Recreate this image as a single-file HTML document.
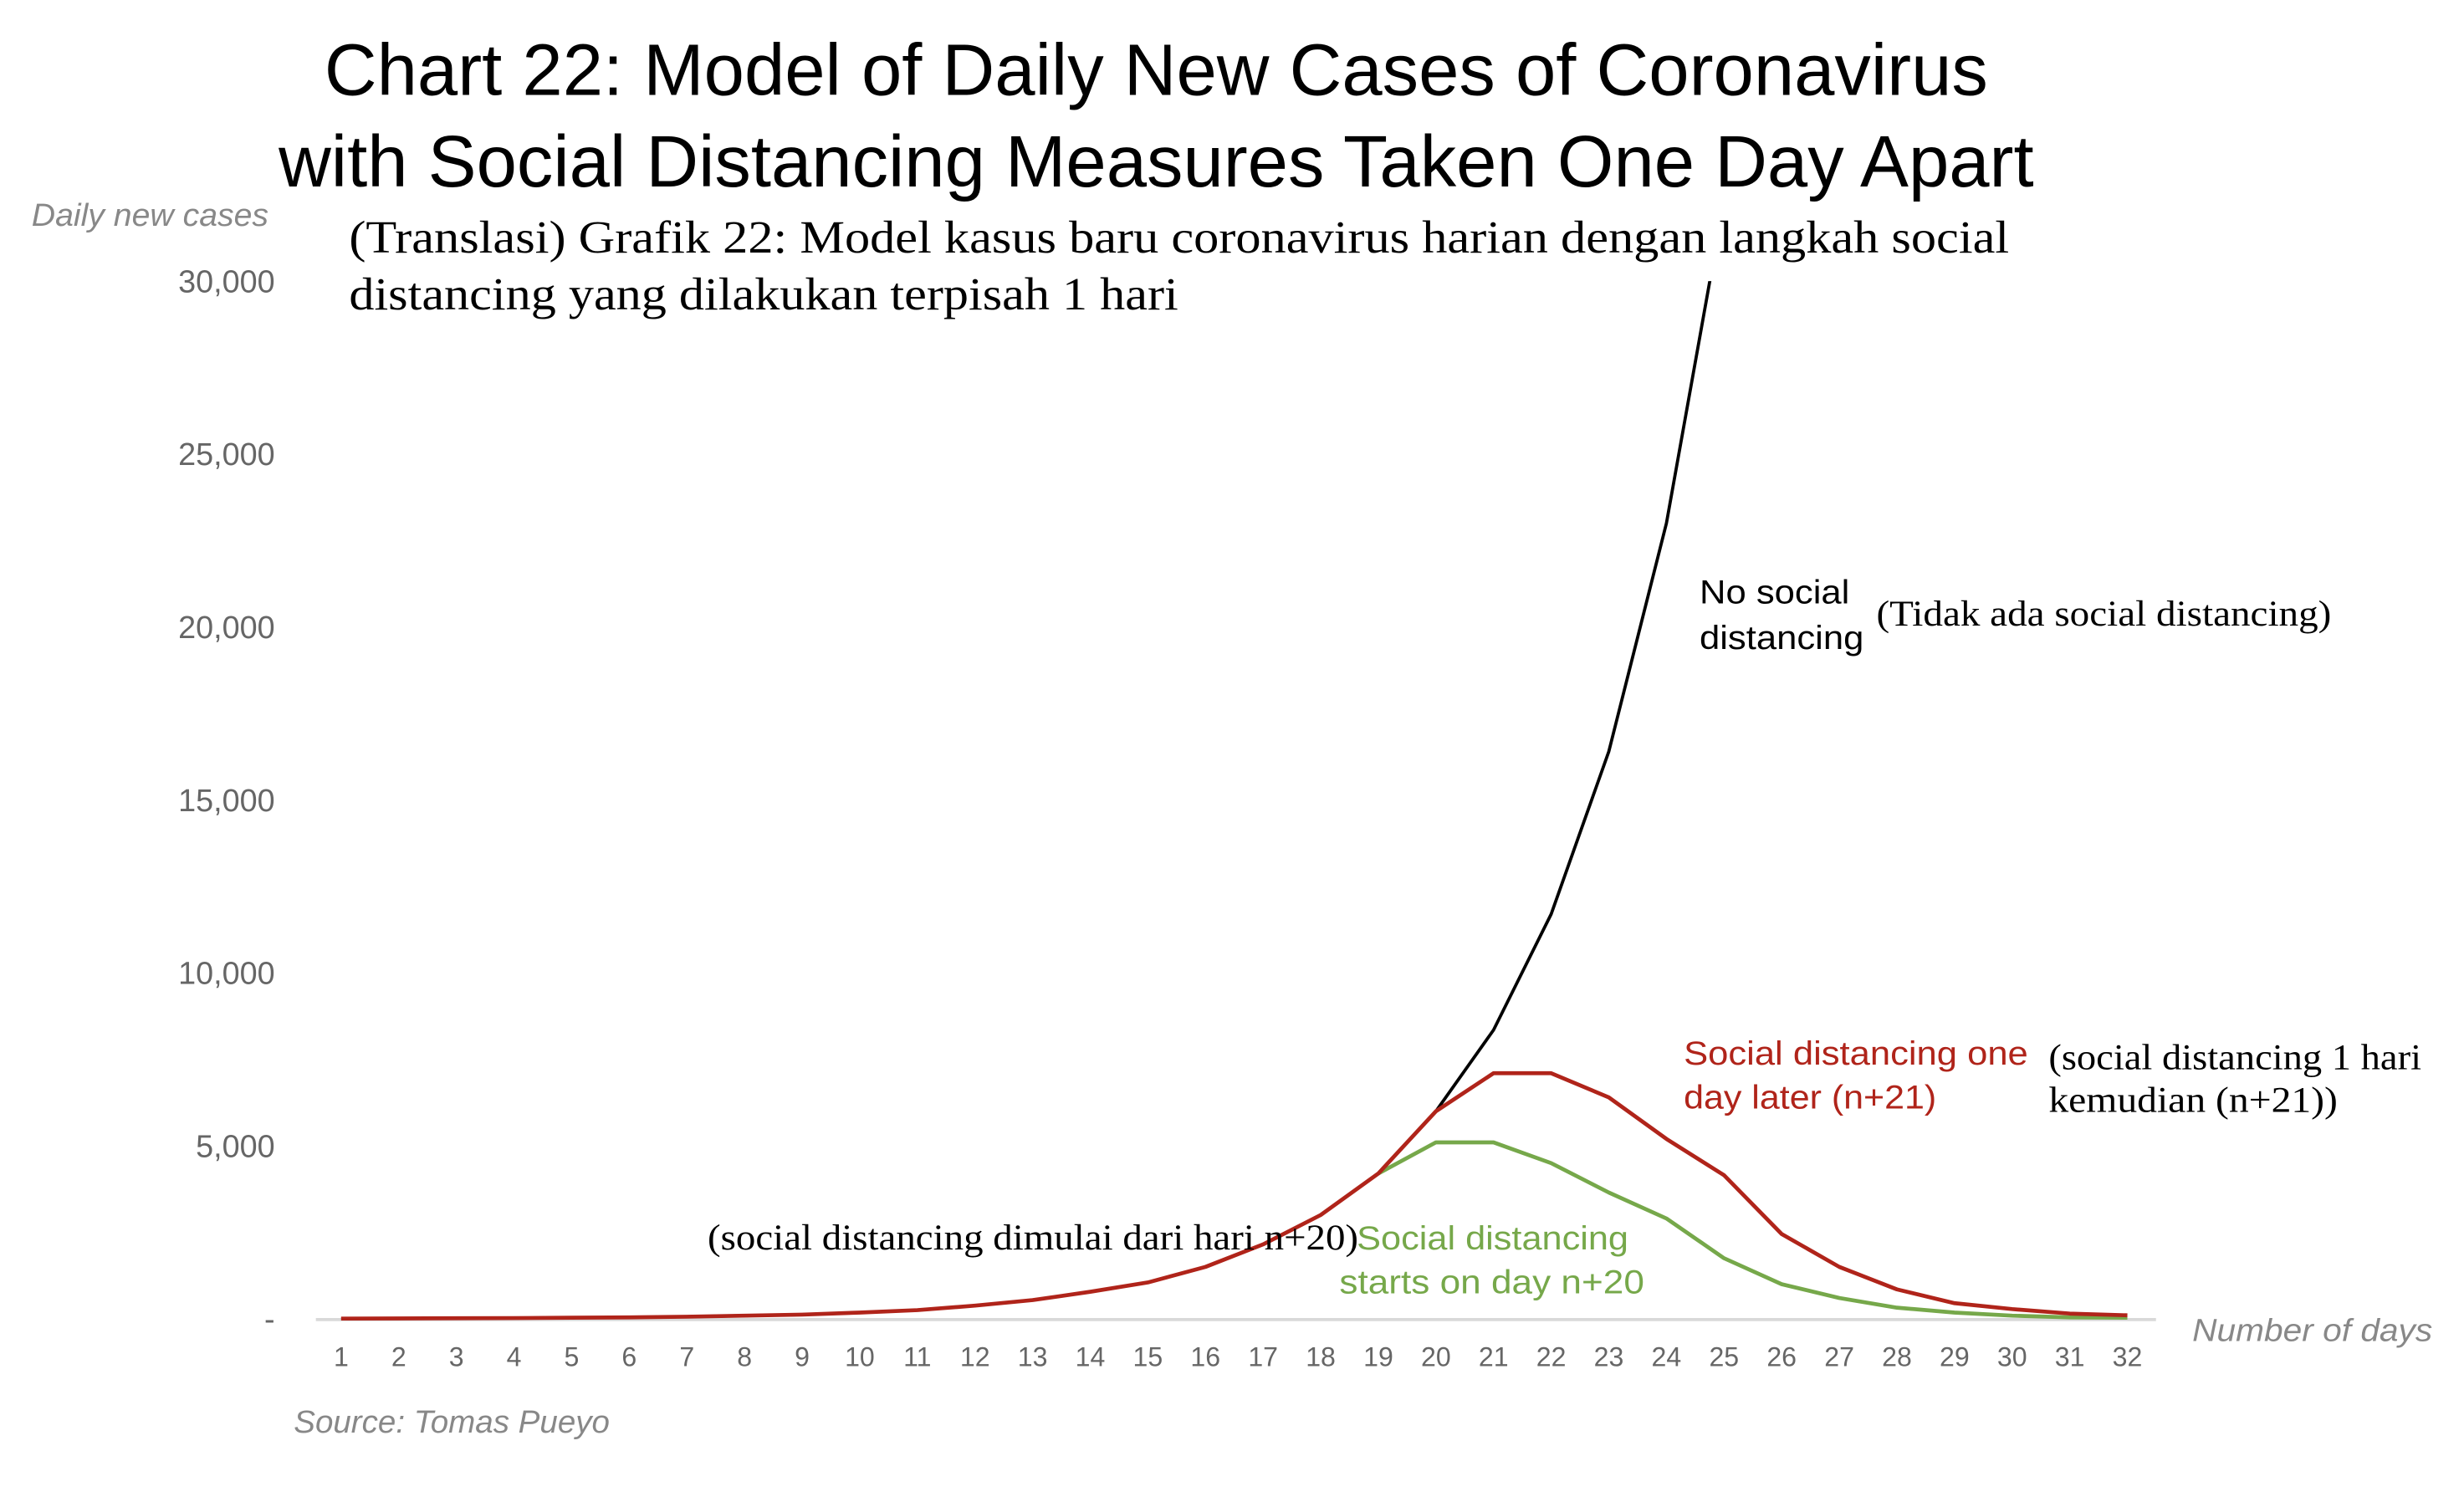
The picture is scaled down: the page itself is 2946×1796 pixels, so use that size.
<!DOCTYPE html>
<html><head><meta charset="utf-8"><style>
html,body{margin:0;padding:0;background:#fff;}
svg{display:block;}
.sans{font-family:"Liberation Sans",sans-serif;}
.serif{font-family:"Liberation Serif",serif;}
</style></head><body>
<svg id="chart" width="2946" height="1796" viewBox="0 0 1560 951" xmlns="http://www.w3.org/2000/svg">
<defs><clipPath id="plotclip"><rect x="190" y="178" width="1200" height="680"/></clipPath></defs>
<text class="sans" x="732" y="60" font-size="46" text-anchor="middle" fill="#000">Chart 22: Model of Daily New Cases of Coronavirus</text>
<text class="sans" x="732" y="118" font-size="46" text-anchor="middle" fill="#000">with Social Distancing Measures Taken One Day Apart</text>
<text class="sans" x="20" y="143" font-size="20" font-style="italic" fill="#888" textLength="150" lengthAdjust="spacingAndGlyphs">Daily new cases</text>
<text class="serif" x="221" y="160" font-size="29" fill="#000" textLength="1051" lengthAdjust="spacingAndGlyphs">(Translasi) Grafik 22: Model kasus baru coronavirus harian dengan langkah social</text>
<text class="serif" x="221" y="196" font-size="29" fill="#000" textLength="525" lengthAdjust="spacingAndGlyphs">distancing yang dilakukan terpisah 1 hari</text>
<line x1="200" y1="835.5" x2="1365" y2="835.5" stroke="#d9d9d9" stroke-width="2"/>
<g id="yticks"></g>
<g id="xticks"></g>
<g id="series" clip-path="url(#plotclip)"></g>
<text class="sans" x="1388" y="849" font-size="20" font-style="italic" fill="#888" textLength="152" lengthAdjust="spacingAndGlyphs">Number of days</text>
<text class="sans" x="186" y="907" font-size="20" font-style="italic" fill="#888" textLength="200" lengthAdjust="spacingAndGlyphs">Source: Tomas Pueyo</text>
<text class="sans" font-size="21" fill="#000"><tspan x="1076" y="382" textLength="95" lengthAdjust="spacingAndGlyphs">No social</tspan><tspan x="1076" y="411" textLength="104" lengthAdjust="spacingAndGlyphs">distancing</tspan></text>
<text class="serif" x="1188" y="396" font-size="23" fill="#000" textLength="288" lengthAdjust="spacingAndGlyphs">(Tidak ada social distancing)</text>
<text class="sans" font-size="21" fill="#b0241a"><tspan x="1066" y="674" textLength="218" lengthAdjust="spacingAndGlyphs">Social distancing one</tspan><tspan x="1066" y="702" textLength="160" lengthAdjust="spacingAndGlyphs">day later (n+21)</tspan></text>
<text class="serif" font-size="23" fill="#000"><tspan x="1297" y="677" textLength="236" lengthAdjust="spacingAndGlyphs">(social distancing 1 hari</tspan><tspan x="1297" y="704" textLength="183" lengthAdjust="spacingAndGlyphs">kemudian (n+21))</tspan></text>
<text class="serif" x="448" y="791" font-size="23" fill="#000" textLength="412" lengthAdjust="spacingAndGlyphs">(social distancing dimulai dari hari n+20)</text>
<text class="sans" font-size="21" fill="#76a84a"><tspan x="859" y="791" textLength="172" lengthAdjust="spacingAndGlyphs">Social distancing</tspan><tspan x="848" y="819" textLength="193" lengthAdjust="spacingAndGlyphs">starts on day n+20</tspan></text>
</svg>
<script>
const days = [1,2,3,4,5,6,7,8,9,10,11,12,13,14,15,16,17,18,19,20,21,22,23,24,25,26,27,28,29,30,31,32];
const yTicks = [0,5000,10000,15000,20000,25000,30000];
const yTickLabels = ["-","5,000","10,000","15,000","20,000","25,000","30,000"];
const noDistancing = [5,10,15,20,30,40,60,90,120,180,250,380,540,780,1050,1500,2150,3000,4200,6000,8350,11700,16400,23000,32300];
const oneDayLater = [5,10,15,20,30,40,60,90,120,180,250,380,540,780,1050,1500,2150,3000,4200,6000,7100,7100,6400,5200,4150,2450,1500,850,450,280,150,100];
const dayN20 = [4200,5100,5100,4500,3650,2900,1750,1000,600,320,180,90,40,30];
const dayN20Start = 19;

const NS = "http://www.w3.org/2000/svg";
function xPos(d){ return 216 + (d-1)*36.48; }
function yPos(v){ return 835 - v/30000*657; }

const yt = document.getElementById('yticks');
yTicks.forEach((v,i)=>{
  const t = document.createElementNS(NS,'text');
  
  
  t.setAttribute('class','sans');
  t.setAttribute('x', 174);
  t.setAttribute('y', yPos(v)+7);
  t.setAttribute('font-size', 20);
  t.setAttribute('fill', '#666');
  t.setAttribute('text-anchor','end');
  t.textContent = yTickLabels[i];
  yt.appendChild(t);
});
const xt = document.getElementById('xticks');
days.forEach(d=>{
  const t = document.createElementNS(NS,'text');
  
  
  t.setAttribute('class','sans');
  t.setAttribute('x', xPos(d));
  t.setAttribute('y', 865);
  t.setAttribute('font-size', 17);
  t.setAttribute('fill', '#666');
  t.setAttribute('text-anchor','middle');
  t.textContent = d;
  xt.appendChild(t);
});
const sg = document.getElementById('series');
function line(vals, start, color, w, name){
  const pts = vals.map((v,i)=>xPos(start+i).toFixed(2)+','+yPos(v).toFixed(2)).join(' ');
  const p = document.createElementNS(NS,'polyline');
  
  
  p.setAttribute('points', pts);
  p.setAttribute('fill','none');
  p.setAttribute('stroke', color);
  p.setAttribute('stroke-width', w);
  p.setAttribute('stroke-linejoin','round');
  sg.appendChild(p);
}
line(noDistancing, 1, '#000', 2, 'line-no-distancing');
line(dayN20, dayN20Start, '#76a84a', 2.5, 'line-day-20');
line(oneDayLater, 1, '#b0241a', 2.5, 'line-one-day-later');
</script>
</body></html>
